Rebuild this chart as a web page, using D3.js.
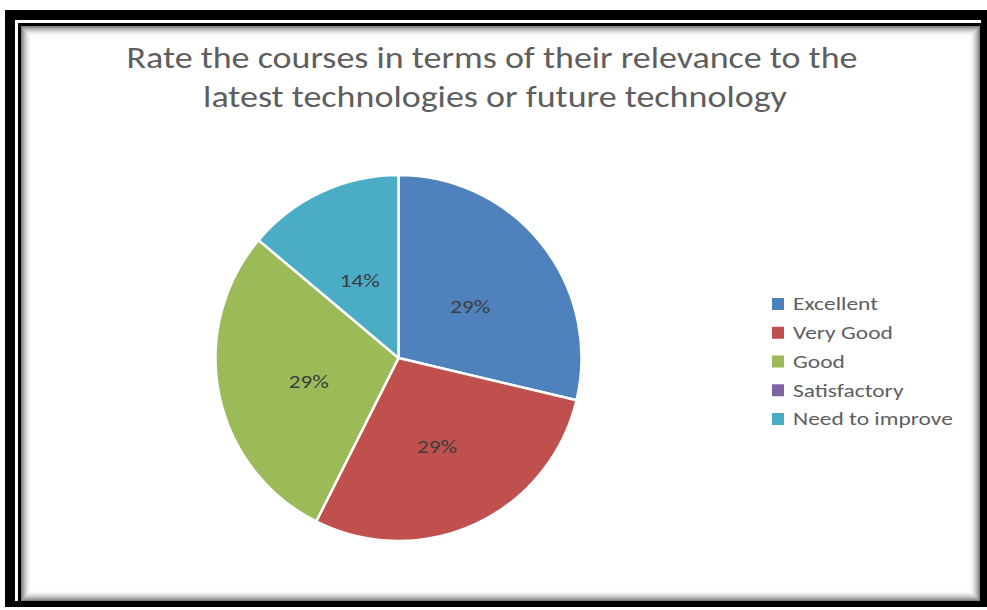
<!DOCTYPE html>
<html>
<head>
<meta charset="utf-8">
<script src="https://cdn.jsdelivr.net/npm/d3@7/dist/d3.min.js"></script>
<style>
  html, body { margin: 0; padding: 0; background: #ffffff; }
  svg { display: block; }
</style>
</head>
<body>
<svg id="chart" width="987" height="610"></svg>
<script>
// ---- data ----
const titleLines = ["Rate the courses in terms of their relevance to the", "latest technologies or future technology"];
const categories = ["Excellent", "Very Good", "Good", "Satisfactory", "Need to improve"];
const values = [29, 29, 29, 0, 14];          // percent shares
const colors = ["#4F81BD", "#C0504D", "#9BBB59", "#8064A2", "#4BACC6"];

const W = 987, H = 610;
const svg = d3.select("#chart");
const FONT = "Carlito, Calibri, 'Open Sans', 'Noto Sans', sans-serif";
const STRETCH = 1.22;   // the reference picture is stretched horizontally

// ---- frame ----
svg.append("rect").attr("x", 0).attr("y", 0).attr("width", W).attr("height", H).attr("fill", "#fff");
svg.append("rect").attr("x", 5).attr("y", 10).attr("width", 982).attr("height", 597).attr("fill", "#000");
svg.append("rect").attr("x", 15).attr("y", 20).attr("width", 966).attr("height", 581).attr("fill", "#fff");
svg.append("rect").attr("x", 18).attr("y", 23).attr("width", 963).attr("height", 578).attr("fill", "#000");
const inner = {x: 21, y: 26, w: 959, h: 575};
svg.append("rect").attr("x", inner.x).attr("y", inner.y).attr("width", inner.w).attr("height", inner.h).attr("fill", "#fff");
// inner shadow
const shadowSteps = d3.range(0, 11);
svg.append("g").selectAll("rect").data(shadowSteps).join("rect")
  .attr("x", i => inner.x + i + 0.5)
  .attr("y", i => inner.y + i + 0.5)
  .attr("width", i => inner.w - 2 * i - 1)
  .attr("height", i => inner.h - 2 * i - 1)
  .attr("fill", "none")
  .attr("stroke", "#000")
  .attr("stroke-opacity", i => 0.5 * Math.pow(1 - i / 11, 2));

// ---- title ----
const titleTargets = [{cx: 492, y: 68, w: 731}, {cx: 495, y: 107, w: 584}];
const title = svg.append("g");
titleLines.forEach((line, i) => {
  const tg = title.append("g").attr("transform", `translate(${titleTargets[i].cx},${titleTargets[i].y})`);
  const t = tg.append("text")
    .attr("text-anchor", "middle")
    .attr("font-family", FONT)
    .attr("font-size", 31)
    .attr("fill", "#5e5e5e")
    .text(line);
  const len = t.node().getComputedTextLength();
  t.attr("transform", `scale(${titleTargets[i].w / len},1)`);
});

// ---- pie ----
const cx = 398.5, cy = 358, R = 183;
const pie = d3.pie().sort(null).value(d => d.value);
const pieData = pie(categories.map((c, i) => ({name: c, value: values[i], color: colors[i]})));
const arc = d3.arc().innerRadius(0).outerRadius(R);
const labelArc = d3.arc().innerRadius(R * 0.5).outerRadius(R * 0.5);

const g = svg.append("g").attr("transform", `translate(${cx},${cy})`);
g.selectAll("path").data(pieData.filter(d => d.data.value > 0)).join("path")
  .attr("d", arc)
  .attr("fill", d => d.data.color)
  .attr("stroke", "#fff")
  .attr("stroke-width", 2.5)
  .attr("stroke-linejoin", "round");

g.selectAll("text.lbl").data(pieData.filter(d => d.data.value > 0)).join("text")
  .attr("class", "lbl")
  .attr("transform", d => `translate(${labelArc.centroid(d)}) scale(${STRETCH},1)`)
  .attr("text-anchor", "middle")
  .attr("dy", "0.62em")
  .attr("font-family", FONT)
  .attr("font-size", 19)
  .attr("fill", "#3d3d3d")
  .text(d => d.data.value + "%");

// ---- legend ----
const legendY = d3.scalePoint().domain(categories).range([304, 419]);
const legend = svg.append("g");
const items = legend.selectAll("g").data(categories).join("g")
  .attr("transform", d => `translate(772,${legendY(d)})`);
items.append("rect")
  .attr("x", 0).attr("y", -6).attr("width", 12).attr("height", 12)
  .attr("fill", (d, i) => colors[i]);
const legTexts = items.append("text")
  .attr("x", 0).attr("dy", "0.35em")
  .attr("font-family", FONT)
  .attr("font-size", 18.5)
  .attr("fill", "#5e5e5e")
  .text(d => d);
// stretch labels horizontally so the longest label spans the width seen in the reference
const longest = legTexts.filter(d => d === "Need to improve").node().getComputedTextLength();
legTexts.attr("transform", `translate(21,0) scale(${160 / longest},1)`);
</script>
</body>
</html>
